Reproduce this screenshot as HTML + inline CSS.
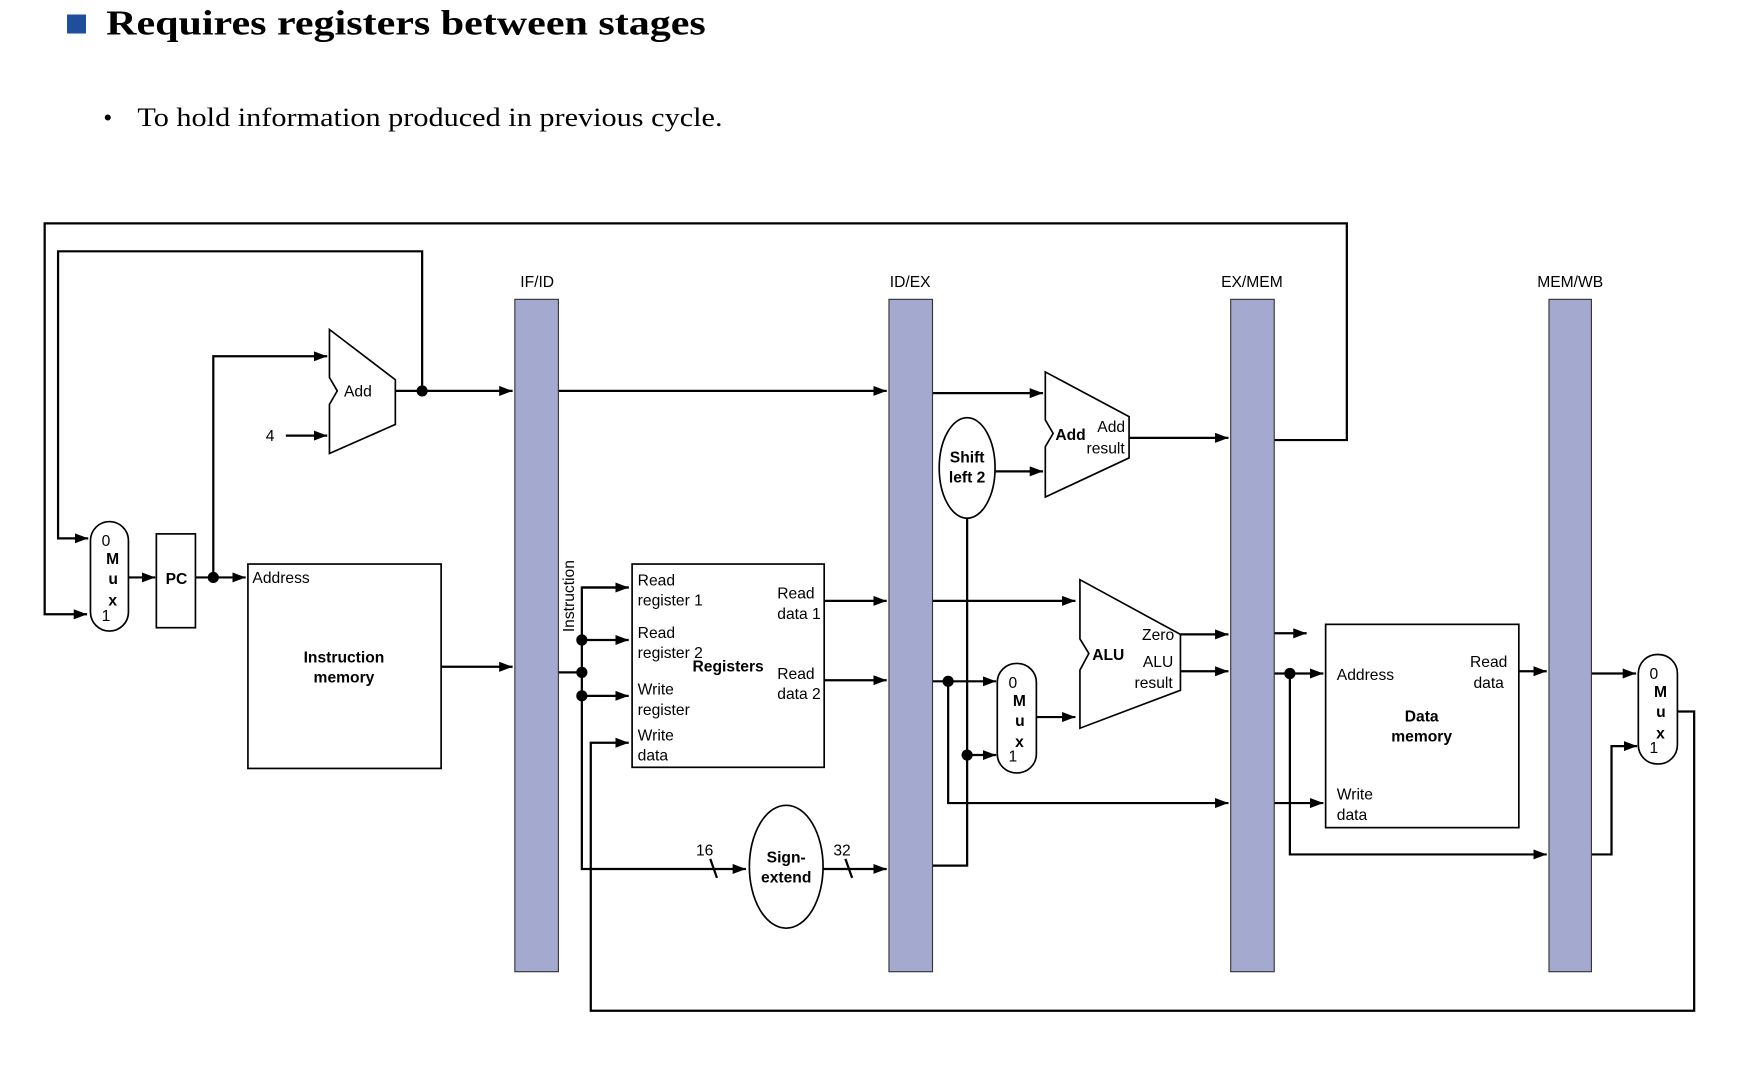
<!DOCTYPE html>
<html><head><meta charset="utf-8"><style>
html,body{margin:0;padding:0;background:#fff;}
svg{display:block}
</style></head><body>
<svg width="1750" height="1070" viewBox="0 0 1567 958" preserveAspectRatio="none" xmlns="http://www.w3.org/2000/svg">
<defs><marker id="a" markerWidth="12" markerHeight="9" refX="12" refY="4.5" orient="auto" markerUnits="userSpaceOnUse"><path d="M0,0 L12,4.5 L0,9 z" fill="#000"/></marker></defs>
<rect x="60" y="13" width="17" height="17" fill="#1f4e9c"/>
<text x="95" y="31" font-family="Liberation Serif, serif" font-weight="bold" font-size="31" textLength="537" lengthAdjust="spacingAndGlyphs">Requires registers between stages</text>
<text x="93" y="112" font-family="Liberation Sans, sans-serif" font-size="20">•</text>
<text x="123" y="113" font-family="Liberation Serif, serif" font-size="24" textLength="524" lengthAdjust="spacingAndGlyphs">To hold information produced in previous cycle.</text>
<g fill="none" stroke="#000" stroke-width="2">
<polyline points="1141,394 1206,394 1206,200 40,200 40,550 78,550" marker-end="url(#a)"/>
<polyline points="378,350 378,225 52,225 52,482 79,482" marker-end="url(#a)"/>
<line x1="115" y1="517" x2="139" y2="517" marker-end="url(#a)"/>
<line x1="175" y1="517" x2="220" y2="517" marker-end="url(#a)"/>
<polyline points="191,517 191,319 293,319" marker-end="url(#a)"/>
<line x1="256" y1="390" x2="293" y2="390" marker-end="url(#a)"/>
<line x1="354" y1="350" x2="459" y2="350" marker-end="url(#a)"/>
<line x1="395" y1="597" x2="459" y2="597" marker-end="url(#a)"/>
<line x1="500" y1="350" x2="794" y2="350" marker-end="url(#a)"/>
<line x1="500" y1="602" x2="521" y2="602"/>
<polyline points="563,526 521,526 521,778 668,778" marker-end="url(#a)"/>
<line x1="521" y1="526" x2="563" y2="526" marker-end="url(#a)"/>
<line x1="521" y1="573" x2="563" y2="573" marker-end="url(#a)"/>
<line x1="521" y1="623" x2="563" y2="623" marker-end="url(#a)"/>
<polyline points="1502,637 1517,637 1517,905 529,905 529,665 563,665" marker-end="url(#a)"/>
<line x1="738" y1="538" x2="794" y2="538" marker-end="url(#a)"/>
<line x1="738" y1="609" x2="794" y2="609" marker-end="url(#a)"/>
<line x1="737" y1="778" x2="794" y2="778" marker-end="url(#a)"/>
<line x1="636" y1="769" x2="642" y2="786"/>
<line x1="757" y1="769" x2="763" y2="786"/>
<line x1="835" y1="352" x2="934" y2="352" marker-end="url(#a)"/>
<line x1="891" y1="422" x2="934" y2="422" marker-end="url(#a)"/>
<polyline points="835,775 866,775 866,464"/>
<line x1="866" y1="676" x2="892" y2="676" marker-end="url(#a)"/>
<line x1="1011" y1="392" x2="1100" y2="392" marker-end="url(#a)"/>
<line x1="835" y1="538" x2="963" y2="538" marker-end="url(#a)"/>
<line x1="835" y1="610" x2="892" y2="610" marker-end="url(#a)"/>
<polyline points="849,610 849,719 1100,719" marker-end="url(#a)"/>
<line x1="928" y1="642" x2="963" y2="642" marker-end="url(#a)"/>
<line x1="1057" y1="568" x2="1100" y2="568" marker-end="url(#a)"/>
<line x1="1057" y1="601" x2="1100" y2="601" marker-end="url(#a)"/>
<line x1="1141" y1="567" x2="1170" y2="567" marker-end="url(#a)"/>
<line x1="1141" y1="603" x2="1185" y2="603" marker-end="url(#a)"/>
<polyline points="1155,603 1155,765 1385,765" marker-end="url(#a)"/>
<line x1="1141" y1="719" x2="1185" y2="719" marker-end="url(#a)"/>
<line x1="1360" y1="601" x2="1385" y2="601" marker-end="url(#a)"/>
<line x1="1425" y1="603" x2="1465" y2="603" marker-end="url(#a)"/>
<polyline points="1425,765 1443,765 1443,668 1466,668" marker-end="url(#a)"/>
</g>
<g fill="#000">
<circle cx="378" cy="350" r="5"/><circle cx="191" cy="517" r="5"/>
<circle cx="521" cy="573" r="5"/><circle cx="521" cy="602" r="5"/><circle cx="521" cy="623" r="5"/>
<circle cx="849" cy="610" r="5"/><circle cx="866" cy="676" r="5"/><circle cx="1155" cy="603" r="5"/>
</g>
<g fill="#a4a9cf" stroke="#333" stroke-width="1">
<rect x="461" y="268" width="39" height="602"/>
<rect x="796" y="268" width="39" height="602"/>
<rect x="1102" y="268" width="39" height="602"/>
<rect x="1387" y="268" width="38" height="602"/>
</g>
<g fill="#fff" stroke="#000" stroke-width="1.5">
<rect x="81" y="467" width="34" height="98" rx="17"/>
<rect x="140" y="478" width="35" height="84"/>
<polygon points="295,295 354,340 354,380 295,406 295,362 302,350 295,338"/>
<rect x="222" y="505" width="173" height="183"/>
<rect x="566" y="505" width="172" height="182"/>
<ellipse cx="704" cy="776" rx="33" ry="55"/>
<polygon points="936,333 1011,373 1011,410 936,445 936,400 943,388 936,376"/>
<ellipse cx="866" cy="419" rx="25" ry="45"/>
<polygon points="967,519 1057,568 1057,618 967,652 967,600 975,585 967,572"/>
<rect x="893" y="594" width="35" height="98" rx="17"/>
<rect x="1187" y="559" width="173" height="182"/>
<rect x="1467" y="586" width="35" height="98" rx="17"/>
</g>
<g font-family="Liberation Sans, sans-serif" font-size="14" fill="#000">
<text x="481" y="257" text-anchor="middle">IF/ID</text>
<text x="815" y="257" text-anchor="middle">ID/EX</text>
<text x="1121" y="257" text-anchor="middle">EX/MEM</text>
<text x="1406" y="257" text-anchor="middle">MEM/WB</text>
<text x="91" y="489">0</text><text x="95" y="505" font-weight="bold">M</text><text x="97" y="523" font-weight="bold">u</text><text x="97" y="542" font-weight="bold">x</text><text x="91" y="556">1</text>
<text x="158" y="523" text-anchor="middle" font-weight="bold">PC</text>
<text x="308" y="355">Add</text>
<text x="238" y="395">4</text>
<text x="226" y="522">Address</text>
<text x="308" y="593" text-anchor="middle" font-weight="bold">Instruction</text>
<text x="308" y="611" text-anchor="middle" font-weight="bold">memory</text>
<text transform="translate(514,566) rotate(-90)">Instruction</text>
<text x="571" y="524">Read</text><text x="571" y="542">register 1</text>
<text x="571" y="571">Read</text><text x="571" y="589">register 2</text>
<text x="652" y="601" text-anchor="middle" font-weight="bold">Registers</text>
<text x="571" y="622">Write</text><text x="571" y="640">register</text>
<text x="571" y="663">Write</text><text x="571" y="681">data</text>
<text x="696" y="536">Read</text><text x="696" y="554">data 1</text>
<text x="696" y="608">Read</text><text x="696" y="626">data 2</text>
<text x="631" y="766" text-anchor="middle">16</text>
<text x="754" y="766" text-anchor="middle">32</text>
<text x="704" y="772" text-anchor="middle" font-weight="bold">Sign-</text>
<text x="704" y="790" text-anchor="middle" font-weight="bold">extend</text>
<text x="866" y="414" text-anchor="middle" font-weight="bold">Shift</text>
<text x="866" y="432" text-anchor="middle" font-weight="bold">left 2</text>
<text x="945" y="394" font-weight="bold">Add</text>
<text x="995" y="387" text-anchor="middle">Add</text>
<text x="990" y="406" text-anchor="middle">result</text>
<text x="978" y="591" font-weight="bold">ALU</text>
<text x="1037" y="573" text-anchor="middle">Zero</text>
<text x="1037" y="597" text-anchor="middle">ALU</text>
<text x="1033" y="616" text-anchor="middle">result</text>
<text x="903" y="616">0</text><text x="907" y="632" font-weight="bold">M</text><text x="909" y="650" font-weight="bold">u</text><text x="909" y="669" font-weight="bold">x</text><text x="903" y="682">1</text>
<text x="1197" y="609">Address</text>
<text x="1333" y="597" text-anchor="middle">Read</text><text x="1333" y="616" text-anchor="middle">data</text>
<text x="1273" y="646" text-anchor="middle" font-weight="bold">Data</text>
<text x="1273" y="664" text-anchor="middle" font-weight="bold">memory</text>
<text x="1197" y="716">Write</text><text x="1197" y="734">data</text>
<text x="1477" y="608">0</text><text x="1481" y="624" font-weight="bold">M</text><text x="1483" y="642" font-weight="bold">u</text><text x="1483" y="661" font-weight="bold">x</text><text x="1477" y="674">1</text>
</g>
</svg>
</body></html>
